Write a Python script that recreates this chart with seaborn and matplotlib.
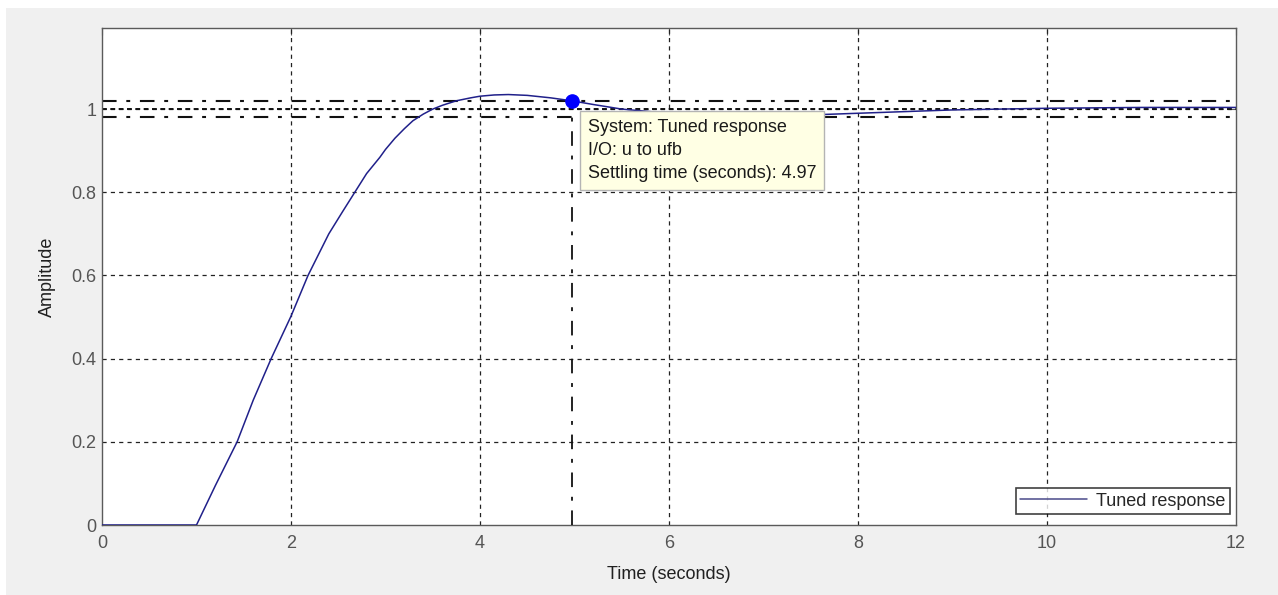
import numpy as np
import pandas as pd
import seaborn as sns
import matplotlib.pyplot as plt
from matplotlib.patches import Rectangle

# step response
time_s = [0, 1.0, 1.2, 1.43, 1.6, 1.79, 2.0, 2.18, 2.4, 2.55, 2.675, 2.8, 2.94, 3.0,
          3.1, 3.2, 3.29, 3.4, 3.5, 3.6, 3.75, 3.9, 4.0, 4.15, 4.3, 4.5, 4.75, 4.97,
          5.2, 5.5, 6.0, 6.5, 7.0, 7.5, 8.0, 8.5, 9.0, 9.5, 10.0, 10.5, 11.0, 11.5, 12.0]
amplitude = [0, 0, 0.095, 0.2, 0.3, 0.4, 0.502, 0.6, 0.7, 0.755, 0.8, 0.845, 0.884, 0.903,
             0.93, 0.953, 0.972, 0.988, 1.0, 1.009, 1.02, 1.027, 1.031, 1.034, 1.035,
             1.033, 1.027, 1.02, 1.011, 1.0, 0.99, 0.985, 0.984, 0.986, 0.99, 0.994,
             0.998, 1.0, 1.002, 1.003, 1.004, 1.004, 1.004]

settle_t = 4.97
settle_y = 1.02
band = [0.98, 1.0, 1.02]
xticks = [0, 2, 4, 6, 8, 10, 12]
yticks = [0, 0.2, 0.4, 0.6, 0.8, 1.0]
ytick_labels = ['0', '0.2', '0.4', '0.6', '0.8', '1']
tip_lines = ['System: Tuned response', 'I/O: u to ufb', 'Settling time (seconds): 4.97']

df = pd.DataFrame({'Time': time_s, 'Amplitude': amplitude})

sns.set_theme(style="white")
plt.rcParams['font.family'] = ['Liberation Sans', 'DejaVu Sans']
plt.rcParams['lines.scale_dashes'] = False

fig = plt.figure(figsize=(12.78, 5.95), dpi=100)
fig.patch.set_facecolor('white')
fig.patches.append(Rectangle((6 / 1278, 0), 1, 1 - 8 / 595, transform=fig.transFigure,
                             facecolor='#f0f0f0', edgecolor='none', zorder=-10))
ax = fig.add_axes([102 / 1278, 1 - 525 / 595, (1236 - 102) / 1278, (525 - 28) / 595])
ax.set_facecolor('white')

grid_dash = (0, (3, 3))
dashdot = (0, (10.5, 7, 2.8, 7))
for xv in xticks[1:-1]:
    ax.axvline(xv, color='#222222', lw=0.9, ls=grid_dash, zorder=1)
for yv in yticks[1:]:
    ax.axhline(yv, color='#222222', lw=0.9, ls=grid_dash, zorder=1)

ax.axhline(band[0], color='#111111', lw=1.5, ls=dashdot, zorder=2)
ax.axhline(band[2], color='#111111', lw=1.5, ls=dashdot, zorder=2)
ax.axhline(band[1], color='#111111', lw=1.4, ls=(0, (3.5, 2.5)), zorder=2)

sns.lineplot(data=df, x='Time', y='Amplitude', ax=ax, color='#20208a', lw=1.1,
             estimator=None, sort=False, label='Tuned response', zorder=3)

ax.plot([settle_t, settle_t], [0, settle_y], color='#111111', lw=1.3, ls=dashdot, zorder=4)
ax.plot([settle_t], [settle_y], 'o', color='#0000ff', ms=9.5, zorder=5)

ax.annotate('\n'.join(tip_lines), xy=(settle_t, settle_y), xytext=(11.5, -13),
            textcoords='offset points', ha='left', va='top', fontsize=13,
            color='#1a1a1a', linespacing=1.45, zorder=10,
            bbox=dict(boxstyle='square,pad=0.45', facecolor='#ffffe4', edgecolor='#b4b4b4', lw=1))

ax.set_xlim(0, 12)
ax.set_ylim(0, 1.195)
ax.set_xticks(xticks)
ax.set_xticklabels([str(v) for v in xticks])
ax.set_yticks(yticks)
ax.set_yticklabels(ytick_labels)
ax.tick_params(direction='in', length=5, width=0.8, colors='#555555', labelsize=13,
               top=True, right=True, labelcolor='#555555')
ax.tick_params(axis='x', pad=7)
ax.tick_params(axis='y', pad=4)
for s in ax.spines.values():
    s.set_color('#5a5a5a')
    s.set_linewidth(1)

ax.set_xlabel('Time (seconds)', fontsize=13, color='#202020', labelpad=10)
ax.set_ylabel('Amplitude', fontsize=13, color='#202020', labelpad=11)

leg = ax.legend(loc='lower right', bbox_to_anchor=(0.9947, 0.0221), borderaxespad=0,
                fontsize=13, frameon=True, fancybox=False, handlelength=3.7,
                handletextpad=0.5, borderpad=0.25)
leg.get_frame().set_edgecolor('#111111')
leg.get_frame().set_linewidth(1.2)
leg.get_lines()[0].set_color('#4a4a8a')
leg.set_zorder(11)

fig.savefig('out.png', dpi=100, facecolor=fig.get_facecolor())
